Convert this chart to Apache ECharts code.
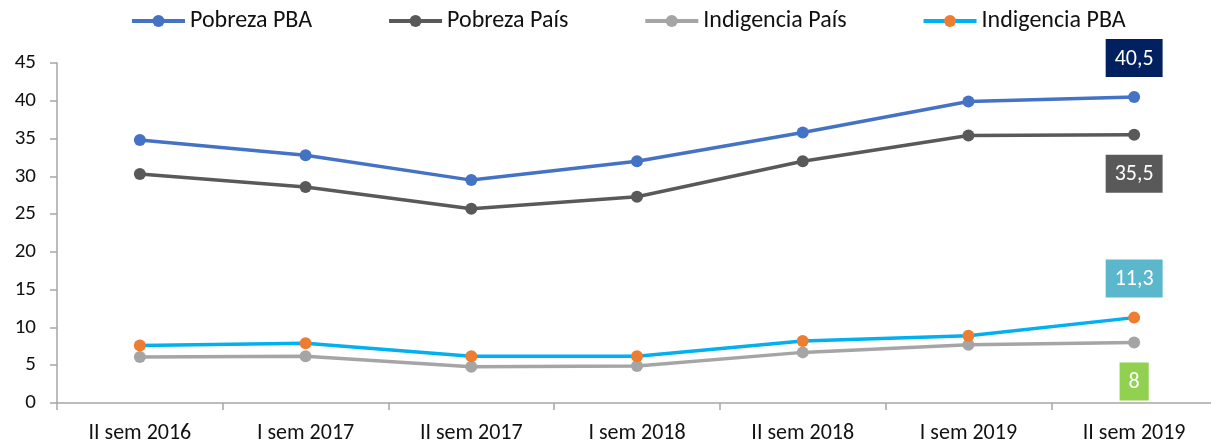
<!DOCTYPE html>
<html>
<head>
<meta charset="utf-8">
<script src="https://cdn.jsdelivr.net/npm/echarts@6/dist/echarts.min.js"></script>
<style>
  html, body { margin: 0; padding: 0; background: #fff; }
  #chart { width: 1211px; height: 446px; }
</style>
</head>
<body>
<div id="chart"></div>
<script>
// datos
var periodos = ['II sem 2016', 'I sem 2017', 'II sem 2017', 'I sem 2018', 'II sem 2018', 'I sem 2019', 'II sem 2019'];
var pobrezaPBA = [34.8, 32.8, 29.5, 32.0, 35.8, 39.9, 40.5];
var pobrezaPais = [30.3, 28.6, 25.7, 27.3, 32.0, 35.4, 35.5];
var indigenciaPais = [6.1, 6.2, 4.8, 4.9, 6.7, 7.7, 8.0];
var indigenciaPBA = [7.6, 7.9, 6.2, 6.2, 8.2, 8.9, 11.3];

var fuente = 'Carlito, Lato, sans-serif';

function coma(v) {
  return String(v).replace('.', ',');
}

// solo el ultimo punto lleva etiqueta con caja de color
function conEtiqueta(valores, fondo, posicion) {
  var ultimo = valores.length - 1;
  return valores.map(function (v, i) {
    if (i !== ultimo) return v;
    return {
      value: v,
      label: {
        show: true,
        position: posicion,
        distance: 14,
        formatter: function (p) { return coma(p.value); },
        color: '#fff',
        fontFamily: fuente,
        fontSize: 22,
        lineHeight: 24,
        backgroundColor: fondo,
        padding: [8, 9, 6, 9]
      }
    };
  });
}

function serie(nombre, valores, colorLinea, colorPunto, fondo, posicion) {
  return {
    name: nombre,
    type: 'line',
    data: conEtiqueta(valores, fondo, posicion),
    symbol: 'circle',
    symbolSize: 12,
    lineStyle: { color: colorLinea, width: 3.5 },
    itemStyle: { color: colorPunto },
    emphasis: { disabled: true },
    animation: false
  };
}

var myChart = echarts.init(document.getElementById('chart'));

var option = {
  backgroundColor: '#fff',
  textStyle: { fontFamily: fuente },
  legend: {
    top: 9,
    left: 130,
    padding: 0,
    itemWidth: 53,
    itemHeight: 15,
    itemGap: 75,
    lineStyle: { width: 4 },
    textStyle: { color: '#111', fontSize: 24, fontFamily: fuente },
    data: ['Pobreza PBA', 'Pobreza País', 'Indigencia País', 'Indigencia PBA']
  },
  grid: { left: 57, top: 63, width: 1160, height: 340, outerBoundsMode: 'none' },
  xAxis: {
    type: 'category',
    data: periodos,
    boundaryGap: true,
    axisLine: { lineStyle: { color: '#a6a6a6', width: 1.5 } },
    axisTick: { show: true, length: 7, lineStyle: { color: '#a6a6a6', width: 1.5 } },
    axisLabel: { color: '#111', fontSize: 22, fontFamily: fuente, margin: 19 }
  },
  yAxis: {
    type: 'value',
    min: 0,
    max: 45,
    interval: 5,
    splitLine: { show: false },
    axisLine: { show: true, lineStyle: { color: '#a6a6a6', width: 1.5 } },
    axisTick: { show: true, length: 7, lineStyle: { color: '#a6a6a6', width: 1.5 } },
    axisLabel: { color: '#111', fontSize: 21, fontFamily: fuente, margin: 21 }
  },
  series: [
    serie('Pobreza PBA', pobrezaPBA, '#4472c4', '#4472c4', '#002060', 'top'),
    serie('Pobreza País', pobrezaPais, '#595959', '#595959', '#595959', 'bottom'),
    serie('Indigencia País', indigenciaPais, '#a5a5a5', '#a5a5a5', '#92d050', 'bottom'),
    serie('Indigencia PBA', indigenciaPBA, '#00b0f0', '#ed7d31', '#5bb7cb', 'top')
  ]
};

myChart.setOption(option);
</script>
</body>
</html>
